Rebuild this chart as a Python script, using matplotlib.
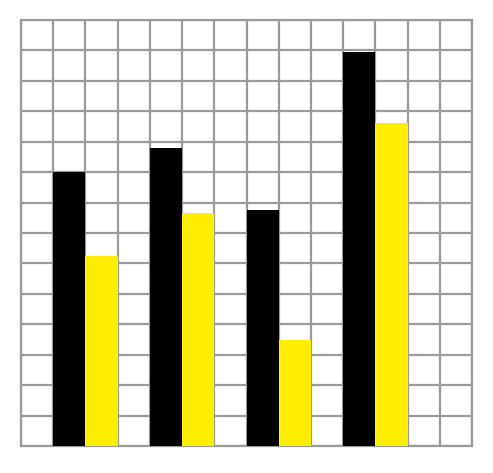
import numpy as np
import matplotlib.pyplot as plt

groups = ['A', 'B', 'C', 'D']
black_vals = [9.0, 9.8, 7.75, 12.95]
yellow_vals = [6.25, 7.65, 3.5, 10.6]

fig = plt.figure(figsize=(4.93, 4.73), dpi=100)
ax = fig.add_axes([21 / 493, (473 - 446) / 473, 451 / 493, 426 / 473])

x = np.arange(len(groups)) * 3
ax.bar(x + 1.5, black_vals, width=1.0, color='black', zorder=3)
ax.bar(x + 2.5, yellow_vals, width=1.0, color='#ffed00', zorder=3)

ax.set_xlim(0, 14)
ax.set_ylim(0, 14)
ax.set_xticks(np.arange(0, 15))
ax.set_yticks(np.arange(0, 15))
ax.grid(True, color='#9a9a9a', linewidth=1.6, zorder=0)
ax.set_axisbelow(True)
ax.tick_params(length=0, labelbottom=False, labelleft=False)
for s in ax.spines.values():
    s.set_color('#9a9a9a')
    s.set_linewidth(1.6)

fig.savefig('out.png', dpi=100)
